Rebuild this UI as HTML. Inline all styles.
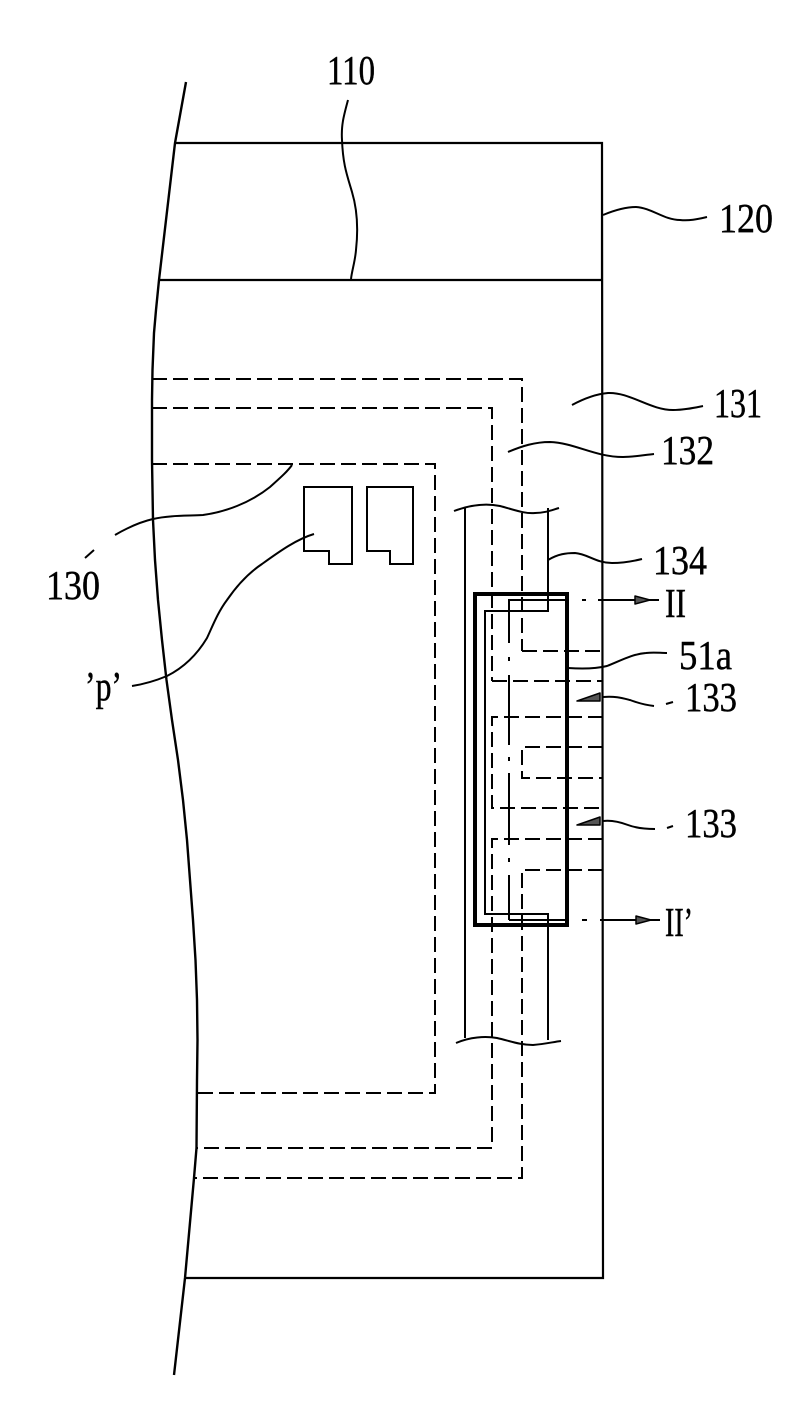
<!DOCTYPE html>
<html><head><meta charset="utf-8"><style>
html,body{margin:0;padding:0;background:#fff}
svg{display:block}
text{font-family:"Liberation Serif",serif;font-size:41px;fill:#000;stroke:#000;stroke-width:.45}
</style></head><body>
<svg width="812" height="1405" viewBox="0 0 812 1405" xmlns="http://www.w3.org/2000/svg">
<rect width="812" height="1405" fill="#fff"/>
<g fill="none" stroke="#000" stroke-width="2">
<path d="M186 82L175 143L159 280L156 310L154 333L152.5 370L152 400L152 460L153 520L155 560L158 600L162 640L166.5 680L172 720L178 760L183 800L187 840L190 880L193 920L195.5 960L197 1000L197.5 1040L197 1080L196.5 1148L194 1178L185 1278L174 1375" stroke-width="2.4"/>
<path d="M175 143H602V280M159 280H602M602 143L603 1278H185" stroke-width="2.2"/>
<path d="M304 487H352V564H329V551H304Z M367 487H413V564H390V551H367Z"/>
<g stroke-dasharray="15 6">
<path d="M152 379H522V651"/>
<path d="M152 408H492V681"/>
<path d="M152 464H435V1093H197"/>
<path d="M522 651H603M492 681H603M603 717H492V808H603M603 747H522V778H603M603 839H492V1148H196M603 870H522V1178H194"/>
</g>
<path d="M465 507V1038M548 508V611H485V914H548V1040"/>
<path d="M454 511C470 505 485 503 500 506C515 510 525 514 535 513C545 513 552 510 559 508"/>
<path d="M456 1043C470 1037 485 1036 497 1038C510 1041 520 1045 533 1045C545 1044 553 1042 561 1041"/>
<rect x="475" y="594" width="92" height="331" stroke-width="4"/>
<path d="M509 643V600H566M509 920H567M509 675V745M509 773V845M509 875V920"/>
<path d="M509 657V661M509 757V761M509 858V862"/>
<path d="M348 100C344 115 341 125 342 140C343 165 347 175 352 192C358 212 358 232 356 250C355 262 352 270 351 279"/>
<path d="M603 215C615 210 625 207 636 207C652 208 664 220 680 220C690 221 698 219 707 217"/>
<path d="M572 405C585 398 596 394 608 393C630 392 650 410 673 410C684 410 693 408 703 406"/>
<path d="M508 452C522 446 535 442 550 442C575 443 595 457 623 457C634 457 644 455 654 454"/>
<path d="M548 560C558 554 566 553 575 553C588 554 596 563 612 563C624 563 634 561 642 559"/>
<path d="M568 668C582 669 595 669 607 666C620 661 632 654 646 653C654 652 660 653 667 653"/>
<path d="M603 697C615 696 622 698 630 700C638 703 645 705 654 706M666 704L673 702"/>
<path d="M603 821C612 820 620 822 628 825C636 828 644 829 655 829M667 828L673 826"/>
<path d="M115 535C127 528 140 522 153 519C170 515 190 516 203 515C225 512 250 503 270 487C280 478 287 472 292 465"/>
<path d="M85 558L94 550"/>
<path d="M132 686C145 684 155 681 167 676C185 667 198 653 207 638C213 625 218 612 227 600C238 584 250 572 262 564C280 551 297 539 314 534"/>
<path d="M582 600H586M598 600H659M582 920H587M600 920H660"/>
</g>
<g fill="#555" stroke="#000" stroke-width="1.5" stroke-linejoin="round">
<path d="M635 596L650 600L635 604Z"/>
<path d="M636 916L651 920L636 924Z"/>
<path d="M577 701L600 693V701Z"/>
<path d="M577 825L600 817V825Z"/>
</g>
<text x="327" y="84" textLength="48" lengthAdjust="spacingAndGlyphs">110</text>
<text x="719" y="232" textLength="54" lengthAdjust="spacingAndGlyphs">120</text>
<text x="714" y="417" textLength="48" lengthAdjust="spacingAndGlyphs">131</text>
<text x="661" y="464" textLength="53" lengthAdjust="spacingAndGlyphs">132</text>
<text x="653" y="574" textLength="54" lengthAdjust="spacingAndGlyphs">134</text>
<text x="679" y="669" textLength="53" lengthAdjust="spacingAndGlyphs">51a</text>
<text x="685" y="711" textLength="52" lengthAdjust="spacingAndGlyphs">133</text>
<text x="685" y="837" textLength="52" lengthAdjust="spacingAndGlyphs">133</text>
<text x="46" y="599" textLength="54" lengthAdjust="spacingAndGlyphs">130</text>
<text x="85" y="700" textLength="37" lengthAdjust="spacingAndGlyphs">’p’</text>
<text x="665" y="617" textLength="21" lengthAdjust="spacingAndGlyphs">II</text>
<text x="665" y="936" textLength="28" lengthAdjust="spacingAndGlyphs">II’</text>
</svg>
</body></html>
